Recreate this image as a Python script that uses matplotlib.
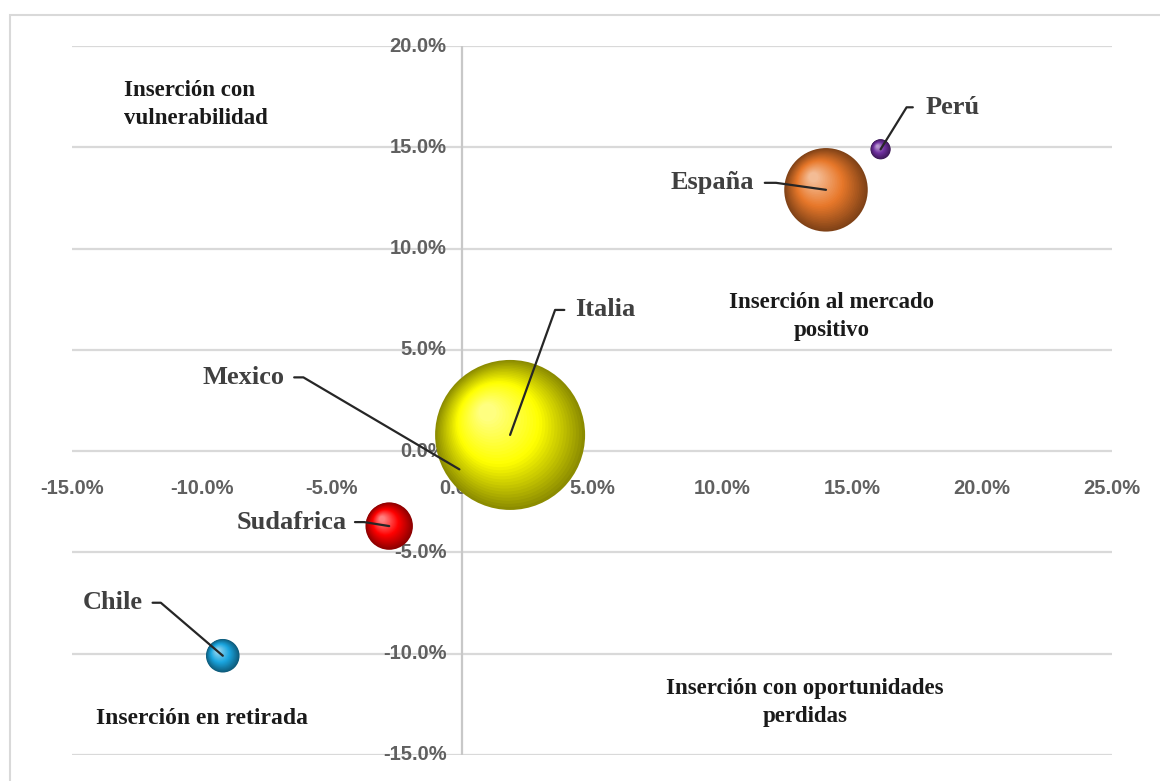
import numpy as np
import matplotlib
matplotlib.use("Agg")
import matplotlib.pyplot as plt
from matplotlib.patches import Rectangle
from matplotlib import transforms
from matplotlib.colors import to_rgb

# ---------------- data ----------------
countries = ["Mexico", "Italia", "España", "Perú", "Sudafrica", "Chile"]
x_vals = [-0.1, 1.85, 14.0, 16.1, -2.8, -9.2]      # %
y_vals = [-0.9, 0.8, 12.9, 14.9, -3.7, -10.1]       # %
bubble_size = [0.3, 100, 31, 1.8, 10, 5]
colors = ["#4CAF50", "#FFFF00", "#E8782A", "#7030A0", "#FF0000", "#1AA6E0"]

x_ticks = [-15, -10, -5, 0, 5, 10, 15, 20, 25]
y_ticks = [-15, -10, -5, 0, 5, 10, 15, 20]

quadrant_labels = ["Inserción con\nvulnerabilidad",
                   "Inserción al mercado\npositivo",
                   "Inserción con oportunidades\nperdidas",
                   "Inserción en retirada"]

# ---------------- figure ----------------
W, H, DPI = 1160, 781, 100
fig = plt.figure(figsize=(W / DPI, H / DPI), dpi=DPI)
fig.patch.set_facecolor("white")

# outer frame (top & left visible)
fig.add_artist(Rectangle((10 / W, -0.2), 1.2, 1.2 - 15 / H,
                         transform=fig.transFigure, fill=False,
                         edgecolor="#d9d9d9", lw=1.5))

ax = fig.add_axes([72 / W, (H - 755) / H, 1040 / W, (755 - 46) / H])
ax.set_xlim(-15, 25)
ax.set_ylim(-15, 20)
ax.set_facecolor("none")
for s in ax.spines.values():
    s.set_visible(False)
ax.set_xticks([])
ax.set_yticks([])

# gridlines
for yt in y_ticks:
    ax.axhline(yt, color="#d9d9d9", lw=1.6, zorder=1)
ax.axvline(0, color="#c8c8c8", lw=1.6, zorder=1)

# tick labels
tick_font = dict(family="Liberation Sans", fontsize=14.5, color="#606060",
                 fontweight="bold", zorder=2)
for yt in y_ticks:
    ax.text(-0.6, yt, f"{yt:.1f}%", ha="right", va="center", **tick_font)
for xt in x_ticks:
    ax.text(xt, -1.83, f"{xt:.1f}%", ha="center", va="center", **tick_font)

# bubbles with 3D shading
px_per_pt = DPI / 72.0
k_radius_px = 7.5  # pixel radius per sqrt(size)


def mix(c1, c2, t):
    a, b = np.array(to_rgb(c1)), np.array(to_rgb(c2))
    return tuple(a + (b - a) * t)


for i in range(len(countries)):
    r_px = k_radius_px * np.sqrt(bubble_size[i])
    base = to_rgb(colors[i])
    dark = mix(base, "black", 0.45)
    light = mix(base, "white", 0.5)
    n = 30
    for j in range(n):
        t = j / (n - 1)
        rr = r_px * (1 - 0.88 * t)
        off_x = -0.30 * r_px * t
        off_y = 0.30 * r_px * t
        if t < 0.5:
            col = mix(dark, base, t / 0.5)
        else:
            col = mix(base, light, (t - 0.5) / 0.5)
        tr = transforms.offset_copy(ax.transData, fig=fig,
                                    x=off_x / px_per_pt, y=off_y / px_per_pt,
                                    units="points")
        d_pt = 2 * rr / px_per_pt
        ax.scatter([x_vals[i]], [y_vals[i]], s=d_pt ** 2, color=col,
                   edgecolors="none", transform=tr,
                   zorder=3 + i * 0.01 + (1 if i == 1 else 0))

# country labels with leader lines: (text dx, dy in px, gap px, hook px, side)
label_layout = {
    "Perú":      (45, 42, 10, 9, "left"),
    "España":    (-72, 7, 8, 14, "right"),
    "Italia":    (65, 125, 8, 12, "left"),
    "Mexico":    (-175, 92, 7, 12, "right"),
    "Sudafrica": (-42, 4, 5, 12, "right"),
    "Chile":     (-80, 53, 7, 11, "right"),
}
lab_font = dict(family="Liberation Serif", fontsize=19, fontweight="bold",
                color="#404040")
for i, name in enumerate(countries):
    dx, dy, gap, hook, side = label_layout[name]
    if side == "left":
        corner_x = dx - gap - hook
        relpos = (0, 0.5)
        ha = "left"
    else:
        corner_x = dx + gap + hook
        relpos = (1, 0.5)
        ha = "right"
    angB = np.degrees(np.arctan2(dy, corner_x))
    ax.annotate(name, xy=(x_vals[i], y_vals[i]),
                xytext=(dx / px_per_pt, dy / px_per_pt),
                textcoords="offset points", ha=ha, va="center",
                arrowprops=dict(arrowstyle="-", color="#262626", lw=1.6,
                                shrinkA=gap / px_per_pt, shrinkB=0,
                                relpos=relpos,
                                connectionstyle=f"angle,angleA=0,angleB={angB},rad=0"),
                zorder=6, **lab_font)

# quadrant labels
q_font = dict(family="Liberation Serif", fontweight="bold",
              color="#1a1a1a", zorder=6)
ax.text(-13.0, 17.1, quadrant_labels[0], ha="left", va="center",
        fontsize=16.5, linespacing=1.45, **q_font)
ax.text(14.2, 6.66, quadrant_labels[1], ha="center", va="center",
        fontsize=16.5, linespacing=1.45, **q_font)
ax.text(13.2, -12.4, quadrant_labels[2], ha="center", va="center",
        fontsize=16.5, linespacing=1.45, **q_font)
ax.text(-10.0, -13.2, quadrant_labels[3], ha="center", va="center",
        fontsize=17, **q_font)

fig.savefig("out.png", dpi=DPI, facecolor="white")
